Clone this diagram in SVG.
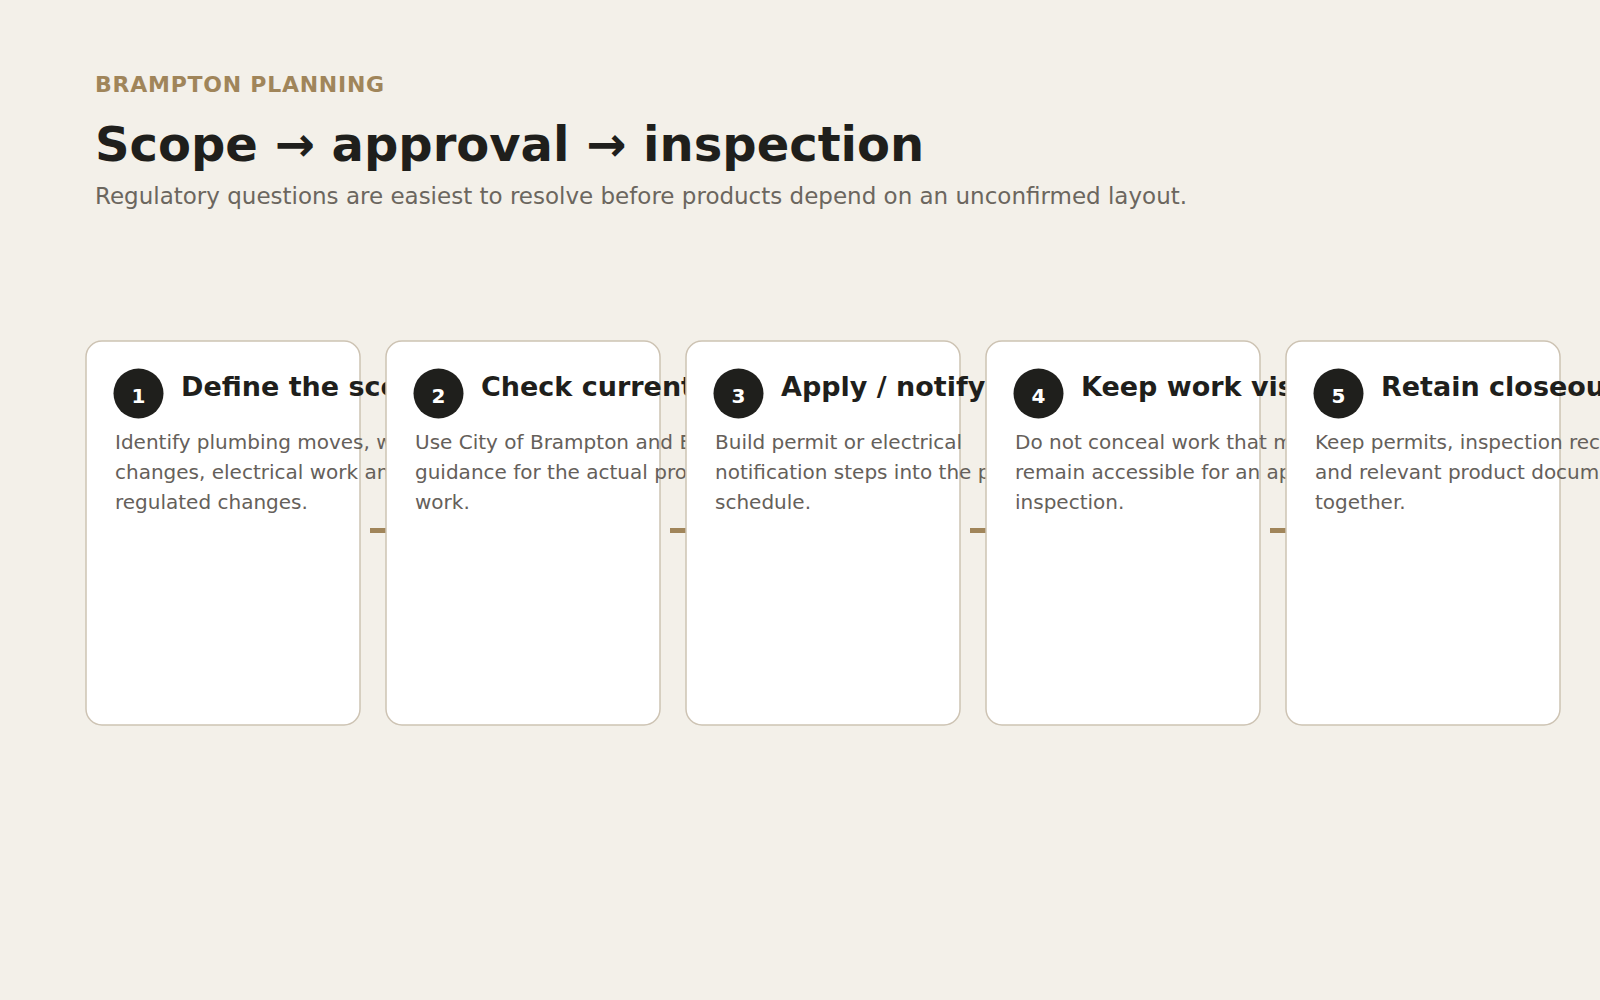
<svg xmlns="http://www.w3.org/2000/svg" width="1600" height="1000" viewBox="0 0 1600 1000">
<style>
.bg{fill:#f3f0e9}
.card{fill:#ffffff;stroke:#cdc3b3;stroke-width:1.5}
.badge{fill:#1f1f1c}
.num{font-family:"DejaVu Sans",sans-serif;font-weight:bold;font-size:20px;fill:#ffffff;text-anchor:middle}
.ttl{font-family:"DejaVu Sans",sans-serif;font-weight:bold;font-size:27px;fill:#1f1f1c}
.body{font-family:"DejaVu Sans",sans-serif;font-size:20px;fill:#65605a}
.conn{stroke:#a0855a;stroke-width:5}
.eyebrow{font-family:"DejaVu Sans",sans-serif;font-weight:bold;font-size:22px;letter-spacing:0.75px;fill:#a0855a}
.h1{font-family:"DejaVu Sans",sans-serif;font-weight:bold;font-size:48px;fill:#1f1f1c}
.sub{font-family:"DejaVu Sans",sans-serif;font-size:23px;fill:#6b665e}
</style>
<rect class="bg" x="0" y="0" width="1600" height="1000"/>
<g id="header">
<text class="eyebrow" x="95" y="92">BRAMPTON PLANNING</text>
<text class="h1" x="95" y="161">Scope → approval → inspection</text>
<text class="sub" x="95" y="204">Regulatory questions are easiest to resolve before products depend on an unconfirmed layout.</text>
</g>
<g id="connectors">
<line class="conn" x1="370" y1="530.5" x2="400" y2="530.5"/>
<line class="conn" x1="670" y1="530.5" x2="700" y2="530.5"/>
<line class="conn" x1="970" y1="530.5" x2="1000" y2="530.5"/>
<line class="conn" x1="1270" y1="530.5" x2="1300" y2="530.5"/>
</g>
<g id="step1">
<rect class="card" x="86" y="341" width="274" height="384" rx="16"/>
<circle class="badge" cx="138.5" cy="393.5" r="25"/>
<text class="num" x="138.5" y="402.5">1</text>
<text class="ttl" x="181" y="396">Define the scope</text>
<text class="body" x="115" y="449">Identify plumbing moves, wall</text>
<text class="body" x="115" y="479">changes, electrical work and</text>
<text class="body" x="115" y="509">regulated changes.</text>
</g>
<g id="step2">
<rect class="card" x="386" y="341" width="274" height="384" rx="16"/>
<circle class="badge" cx="438.5" cy="393.5" r="25"/>
<text class="num" x="438.5" y="402.5">2</text>
<text class="ttl" x="481" y="396">Check current</text>
<text class="body" x="415" y="449">Use City of Brampton and E</text>
<text class="body" x="415" y="479">guidance for the actual pro</text>
<text class="body" x="415" y="509">work.</text>
</g>
<g id="step3">
<rect class="card" x="686" y="341" width="274" height="384" rx="16"/>
<circle class="badge" cx="738.5" cy="393.5" r="25"/>
<text class="num" x="738.5" y="402.5">3</text>
<text class="ttl" x="781" y="396">Apply / notify</text>
<text class="body" x="715" y="449">Build permit or electrical</text>
<text class="body" x="715" y="479">notification steps into the p</text>
<text class="body" x="715" y="509">schedule.</text>
</g>
<g id="step4">
<rect class="card" x="986" y="341" width="274" height="384" rx="16"/>
<circle class="badge" cx="1038.5" cy="393.5" r="25"/>
<text class="num" x="1038.5" y="402.5">4</text>
<text class="ttl" x="1081" y="396">Keep work visible</text>
<text class="body" x="1015" y="449">Do not conceal work that m</text>
<text class="body" x="1015" y="479">remain accessible for an ap</text>
<text class="body" x="1015" y="509">inspection.</text>
</g>
<g id="step5">
<rect class="card" x="1286" y="341" width="274" height="384" rx="16"/>
<circle class="badge" cx="1338.5" cy="393.5" r="25"/>
<text class="num" x="1338.5" y="402.5">5</text>
<text class="ttl" x="1381" y="396">Retain closeout</text>
<text class="body" x="1315" y="449">Keep permits, inspection rec</text>
<text class="body" x="1315" y="479">and relevant product docum</text>
<text class="body" x="1315" y="509">together.</text>
</g>
</svg>
